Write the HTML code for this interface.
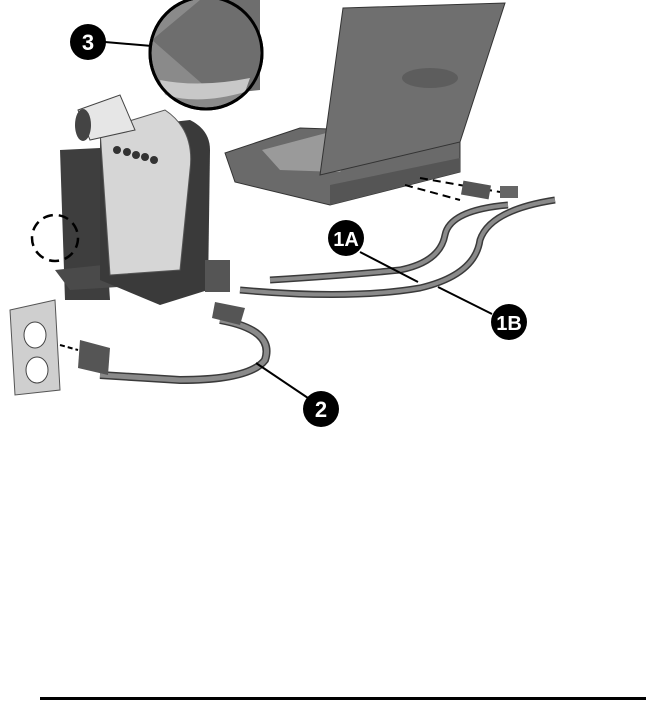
<!DOCTYPE html>
<html><head><style>
html,body{margin:0;padding:0;background:#fff;}
svg{display:block;}
text{font-family:"Liberation Sans",sans-serif;font-weight:bold;fill:#fff;}
</style></head><body>
<svg width="646" height="701" viewBox="0 0 646 701" xmlns="http://www.w3.org/2000/svg">
<rect width="646" height="701" fill="#fff"/>
<!-- zoom circle 3 -->
<circle cx="206" cy="53" r="56" fill="#8a8a8a" stroke="#000" stroke-width="3"/>
<path d="M152 40 L200 0 L260 0 L260 90 L215 95 Z" fill="#6e6e6e"/>
<path d="M160 80 Q200 88 250 78 L245 92 Q200 105 165 95 Z" fill="#c8c8c8"/>
<circle cx="206" cy="53" r="56" fill="none" stroke="#000" stroke-width="3"/>
<line x1="105" y1="42" x2="152" y2="46" stroke="#000" stroke-width="2"/>
<circle cx="88" cy="42" r="18" fill="#000"/>
<text x="88" y="50" font-size="22" text-anchor="middle">3</text>

<!-- laptop -->
<path d="M225 153 L300 128 L360 130 L460 140 L460 172 L330 205 L235 182 Z" fill="#6a6a6a" stroke="#333"/>
<path d="M262 150 L330 132 L370 138 L340 172 L280 170 Z" fill="#9a9a9a"/>
<path d="M343 8 L505 3 L460 142 L320 175 Z" fill="#6f6f6f" stroke="#333"/>
<ellipse cx="430" cy="78" rx="28" ry="10" fill="#5d5d5d"/>
<path d="M330 185 L460 158 L460 172 L330 205 Z" fill="#555"/>
<!-- cables from laptop -->
<path d="M420 178 L500 192" stroke="#000" stroke-width="2" stroke-dasharray="8,5"/>
<path d="M405 185 L460 200" stroke="#000" stroke-width="2" stroke-dasharray="8,5"/>
<path d="M270 280 Q350 275 400 270 Q440 262 445 235 Q450 210 508 205" fill="none" stroke="#3a3a3a" stroke-width="7"/>
<path d="M270 280 Q350 275 400 270 Q440 262 445 235 Q450 210 508 205" fill="none" stroke="#8a8a8a" stroke-width="4"/>
<path d="M240 290 Q350 300 420 288 Q475 275 480 240 Q490 210 555 200" fill="none" stroke="#3a3a3a" stroke-width="7"/>
<path d="M240 290 Q350 300 420 288 Q475 275 480 240 Q490 210 555 200" fill="none" stroke="#8a8a8a" stroke-width="4"/>
<rect x="462" y="183" width="28" height="14" fill="#555" transform="rotate(10 476 190)"/>
<rect x="500" y="186" width="18" height="12" fill="#666"/>
<!-- callouts 1A 1B -->
<line x1="360" y1="252" x2="418" y2="282" stroke="#000" stroke-width="2"/>
<line x1="492" y1="314" x2="438" y2="287" stroke="#000" stroke-width="2"/>
<circle cx="346" cy="238" r="18" fill="#000"/>
<text x="346" y="246" font-size="20" text-anchor="middle">1A</text>
<circle cx="509" cy="322" r="18" fill="#000"/>
<text x="509" y="330" font-size="20" text-anchor="middle">1B</text>

<!-- projector -->
<path d="M60 150 L100 148 L110 300 L65 300 Z" fill="#3e3e3e"/>
<path d="M55 270 L150 260 L150 285 L70 290 Z" fill="#4a4a4a"/>
<path d="M100 130 L190 120 Q210 130 210 150 L208 290 L160 305 L100 280 Z" fill="#3a3a3a"/>
<path d="M100 130 L165 110 Q195 130 190 170 L180 270 L110 275 Z" fill="#d6d6d6" stroke="#555"/>
<path d="M78 110 L120 95 L135 130 L90 140 Z" fill="#e6e6e6" stroke="#444"/>
<ellipse cx="83" cy="125" rx="8" ry="16" fill="#444"/>
<g fill="#333"><circle cx="117" cy="150" r="4"/><circle cx="127" cy="152" r="4"/><circle cx="136" cy="155" r="4"/><circle cx="145" cy="157" r="4"/><circle cx="154" cy="160" r="4"/></g>
<circle cx="55" cy="238" r="23" fill="none" stroke="#000" stroke-width="2.5" stroke-dasharray="10,6"/>
<rect x="205" y="260" width="25" height="32" fill="#555"/>
<!-- power cable -->
<path d="M220 320 Q275 330 265 360 Q250 380 180 380 L100 375" fill="none" stroke="#3a3a3a" stroke-width="8"/>
<path d="M220 320 Q275 330 265 360 Q250 380 180 380 L100 375" fill="none" stroke="#8a8a8a" stroke-width="5"/>
<path d="M215 302 L245 308 L240 325 L212 318 Z" fill="#555"/>
<path d="M80 340 L110 348 L108 375 L78 368 Z" fill="#555"/>
<line x1="60" y1="345" x2="78" y2="350" stroke="#000" stroke-width="2" stroke-dasharray="5,3"/>
<!-- outlet -->
<path d="M10 310 L55 300 L60 390 L15 395 Z" fill="#cfcfcf" stroke="#555"/>
<ellipse cx="35" cy="335" rx="11" ry="13" fill="#fff" stroke="#444"/>
<ellipse cx="37" cy="370" rx="11" ry="13" fill="#fff" stroke="#444"/>
<line x1="256" y1="363" x2="308" y2="398" stroke="#000" stroke-width="2"/>
<circle cx="321" cy="409" r="18" fill="#000"/>
<text x="321" y="417" font-size="22" text-anchor="middle">2</text>

<rect x="40" y="697" width="606" height="3" fill="#000"/>
</svg>
</body></html>
